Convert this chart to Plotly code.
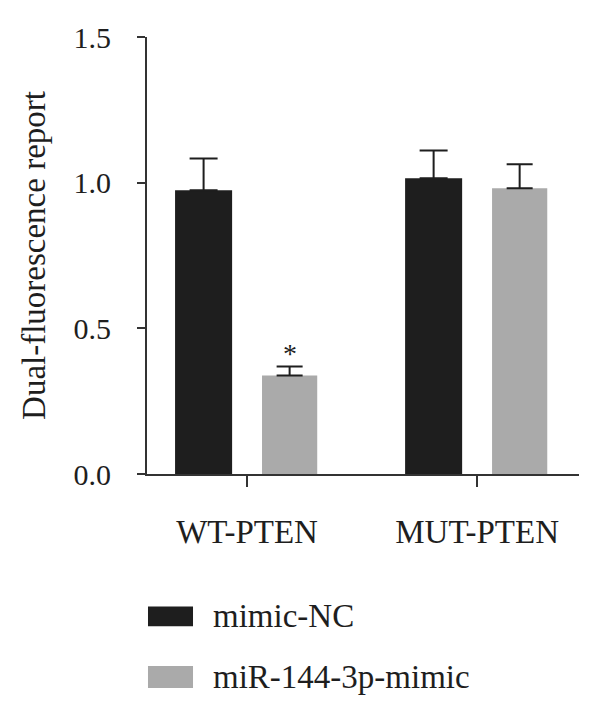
import plotly.graph_objects as go

categories = ["WT-PTEN", "MUT-PTEN"]
series_names = ["mimic-NC", "miR-144-3p-mimic"]
nc_values = [0.974, 1.015]
nc_err = [0.109, 0.095]
mimic_values = [0.338, 0.981]
mimic_err = [0.031, 0.082]
y_ticks = [0.0, 0.5, 1.0, 1.5]
y_ticklabels = ["0.0", "0.5", "1.0", "1.5"]
star_label = "*"
y_title = "Dual-fluorescence report"

BLACK = "#1e1e1e"
GRAY = "#aaaaaa"
AXIS = "#333333"
FONT = "Liberation Serif"

fig = go.Figure()
fig.add_trace(go.Bar(
    x=categories, y=nc_values, name=series_names[0],
    marker=dict(color=BLACK, line=dict(width=0)),
    offset=-0.313, width=0.248,
    error_y=dict(type="data", symmetric=False, array=nc_err,
                 arrayminus=[0, 0], color=BLACK, thickness=2, width=14),
))
fig.add_trace(go.Bar(
    x=categories, y=mimic_values, name=series_names[1],
    marker=dict(color=GRAY, line=dict(width=0)),
    offset=0.065, width=0.24,
    error_y=dict(type="data", symmetric=False, array=mimic_err,
                 arrayminus=[0, 0], color=BLACK, thickness=2, width=13),
))

fig.add_annotation(x=0.185, y=mimic_values[0] + mimic_err[0] + 0.044,
                   xref="x", yref="y", text=star_label, showarrow=False,
                   font=dict(family=FONT, size=28, color=BLACK),
                   yanchor="middle")

# legend drawn as boxes + labels below the plot
legend_rows = [(-0.303, -0.3485, BLACK, series_names[0]),
               (-0.4396, -0.4897, GRAY, series_names[1])]
for y1, y0, col, name in legend_rows:
    fig.add_shape(type="rect", xref="paper", yref="paper",
                  x0=0.0023, x1=0.1065, y0=y0, y1=y1,
                  fillcolor=col, line=dict(width=0))
    fig.add_annotation(xref="paper", yref="paper", x=0.147, y=(y0 + y1) / 2,
                       text=name, showarrow=False, xanchor="left",
                       yanchor="middle",
                       font=dict(family=FONT, size=33, color=BLACK))

fig.update_layout(
    width=584, height=699,
    margin=dict(l=139, r=13, t=27, b=233),
    paper_bgcolor="white", plot_bgcolor="white",
    showlegend=False, barmode="group",
    font=dict(family=FONT, color=BLACK),
)
fig.update_xaxes(
    type="category", range=[-0.435, 1.443],
    showline=True, linecolor=AXIS, linewidth=2,
    ticks="outside", ticklen=11, tickwidth=2, tickcolor=AXIS,
    tickfont=dict(family=FONT, size=33, color=BLACK),
    ticklabelstandoff=16, showgrid=False, zeroline=False,
)
fig.update_yaxes(
    range=[0, 1.5], tickvals=y_ticks, ticktext=y_ticklabels,
    showline=True, linecolor=AXIS, linewidth=2,
    ticks="outside", ticklen=8, tickwidth=2, tickcolor=AXIS,
    tickfont=dict(family=FONT, size=30, color=BLACK),
    ticklabelstandoff=20, showgrid=False, zeroline=False,
    title=dict(text=y_title, font=dict(family=FONT, size=33, color=BLACK),
               standoff=18),
)

fig.write_html("out.html")
